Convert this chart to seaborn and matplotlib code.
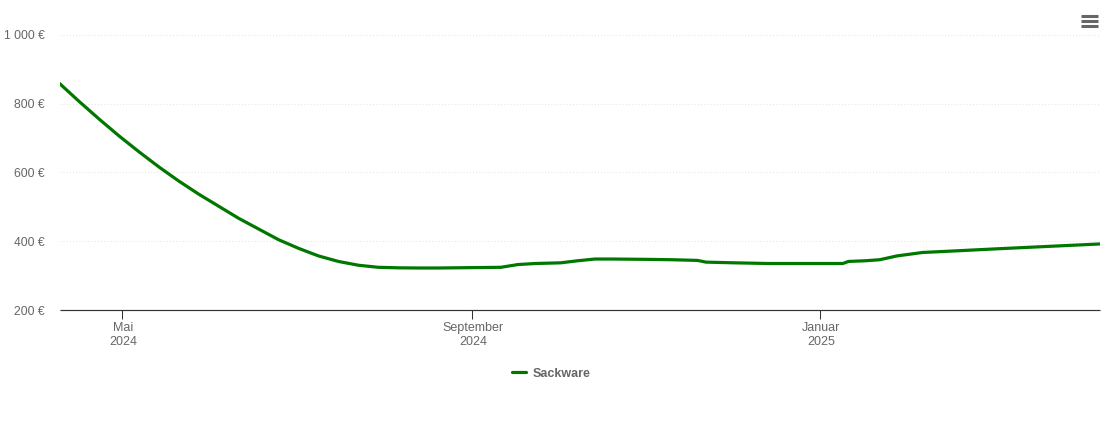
import pandas as pd
import seaborn as sns
import matplotlib
matplotlib.use("Agg")
import matplotlib.pyplot as plt
from matplotlib.lines import Line2D
from matplotlib.transforms import ScaledTranslation

# values
dates = ["2024-04-09", "2024-04-16", "2024-04-23", "2024-04-30", "2024-05-07", "2024-05-14",
         "2024-05-21", "2024-05-28", "2024-06-04", "2024-06-11", "2024-06-18", "2024-06-25",
         "2024-07-02", "2024-07-09", "2024-07-16", "2024-07-23", "2024-07-30", "2024-08-06",
         "2024-08-13", "2024-08-20", "2024-08-31", "2024-09-11", "2024-09-17", "2024-09-23",
         "2024-10-02", "2024-10-08", "2024-10-14", "2024-10-20", "2024-11-02", "2024-11-10",
         "2024-11-19", "2024-11-22", "2024-12-02", "2024-12-14", "2024-12-25", "2025-01-09",
         "2025-01-11", "2025-01-17", "2025-01-22", "2025-01-28", "2025-02-06", "2025-02-16",
         "2025-03-05", "2025-04-10"]
sackware = [859, 806, 755, 706, 660, 616,
            575, 537, 502, 467, 436, 405,
            380, 358, 342, 331, 325, 323.5,
            323, 323, 324, 325, 333, 336,
            338, 344, 349, 349, 348, 347,
            345, 340, 338, 336, 336, 336,
            342, 344, 347, 358, 368, 372,
            379, 393]

y_ticks = [200, 400, 600, 800, 1000]
y_labels = ["200 €", "400 €", "600 €", "800 €", "1 000 €"]
x_ticks = ["2024-05-01", "2024-09-01", "2025-01-01"]
x_labels = ["Mai\n2024", "September\n2024", "Januar\n2025"]

sns.set_theme(style="white")
plt.rcParams["font.family"] = ["Liberation Sans", "DejaVu Sans"]

df = pd.DataFrame({"date": pd.to_datetime(dates), "price": sackware})

W, H = 1110, 423
fig = plt.figure(figsize=(W / 100, H / 100), dpi=100)
ax = fig.add_axes([60 / W, 1 - 310.4 / H, 1040 / W, 275.8 / H])

sns.lineplot(data=df, x="date", y="price", color="#007800", linewidth=2.3,
             label="Sackware", ax=ax, zorder=3)

ax.set_xlim(pd.Timestamp("2024-04-09 06:30"), pd.Timestamp("2025-04-09 07:00"))
ax.set_ylim(200, 1000)
ax.set_xlabel("")
ax.set_ylabel("")

ax.set_yticks(y_ticks)
ax.set_yticklabels(y_labels)
ax.set_xticks(pd.to_datetime(x_ticks))
ax.set_xticklabels(x_labels, linespacing=1.2)
ax.tick_params(axis="y", length=0, pad=11, labelsize=8.7, labelcolor="#666666")
ax.tick_params(axis="x", length=6.8, width=0.75, color="#333333", pad=1.6,
               labelsize=9, labelcolor="#666666", bottom=True)

# labels sit a pixel right of their ticks
nudge = ScaledTranslation(1 / 100, 0, fig.dpi_scale_trans)
for lab in ax.get_xticklabels():
    lab.set_transform(lab.get_transform() + nudge)

ax.grid(axis="y", color="#e6e6e6", linewidth=0.75, linestyle=(0, (1, 2)))
ax.grid(axis="x", visible=False)
for s in ["top", "left", "right"]:
    ax.spines[s].set_visible(False)
ax.spines["bottom"].set_color("#333333")
ax.spines["bottom"].set_linewidth(0.85)
ax.spines["bottom"].set_capstyle("butt")
for line in ax.get_ygridlines():
    line.set_clip_on(False)

leg = ax.legend(loc="center", bbox_to_anchor=(551 / W, 1 - 373.5 / H),
                bbox_transform=fig.transFigure, frameon=False, handlelength=1.1,
                handletextpad=0.55, prop={"size": 9, "weight": "bold"})
for t in leg.get_texts():
    t.set_color("#666666")

# menu icon top right
for py in [16, 21, 26]:
    fig.add_artist(Line2D([1081 / W, 1097.5 / W], [1 - py / H, 1 - py / H], color="#666666",
                          linewidth=2.2, solid_capstyle="butt"))

fig.savefig("out.png", dpi=100)
